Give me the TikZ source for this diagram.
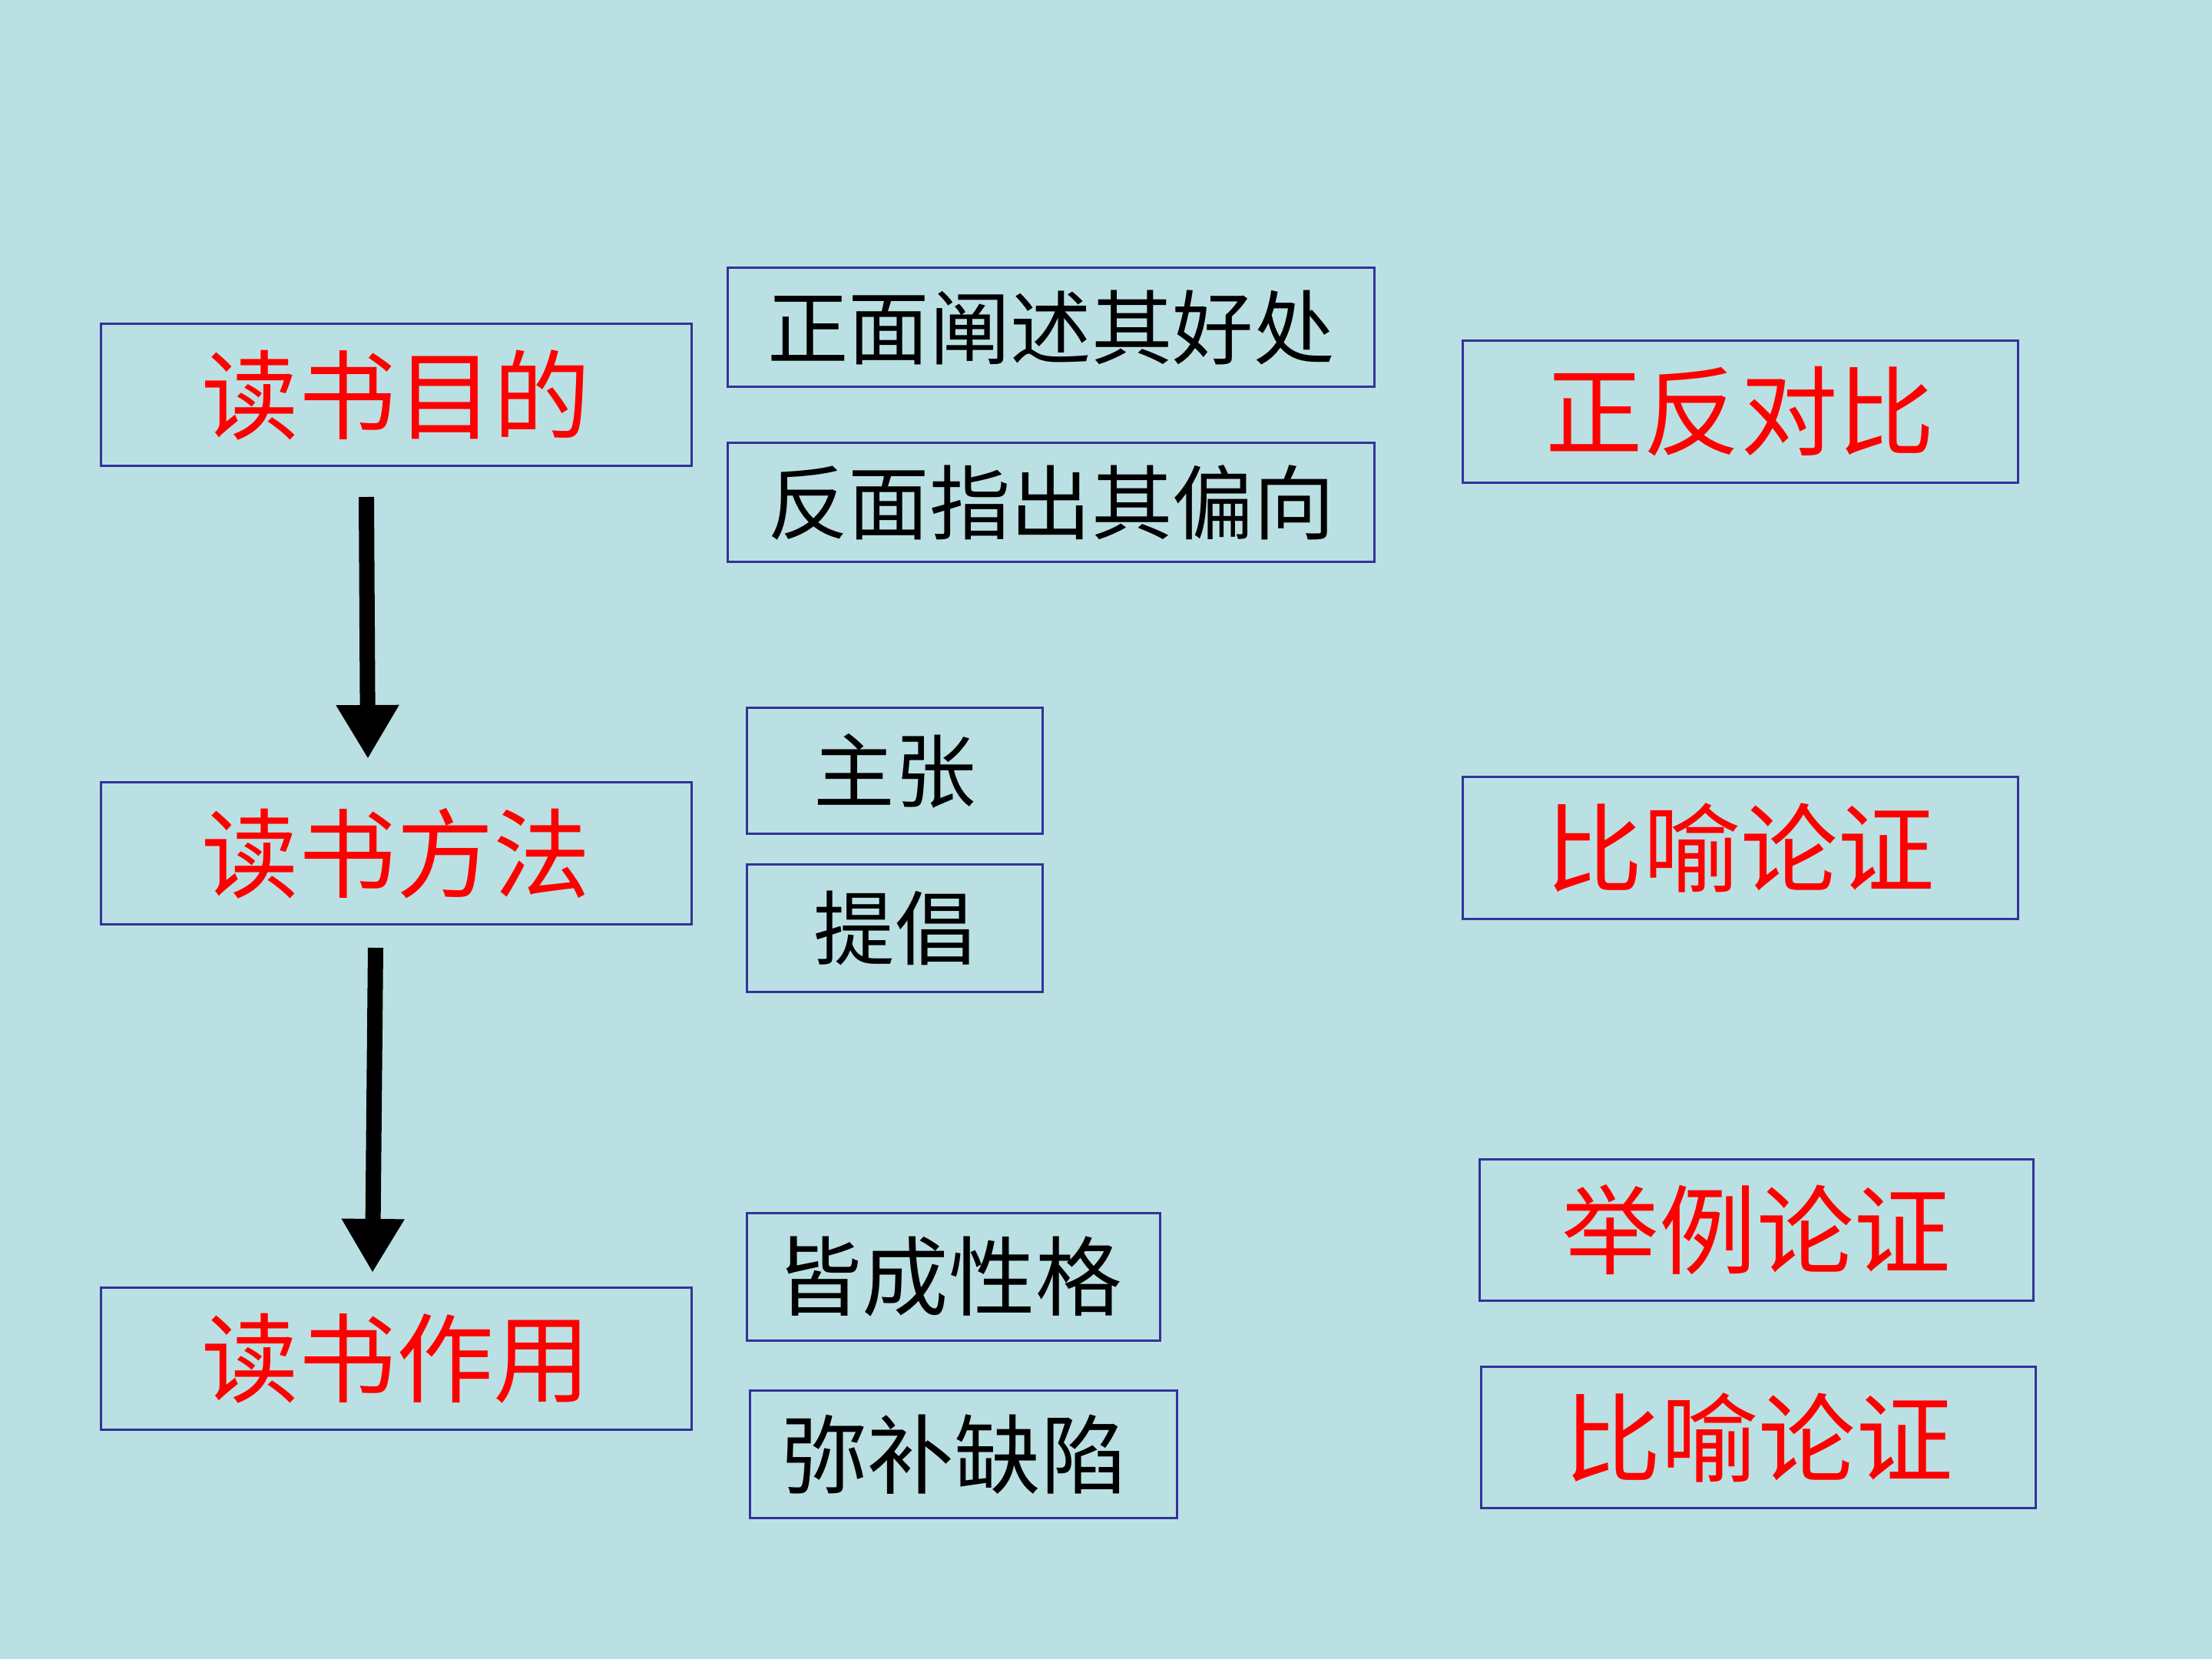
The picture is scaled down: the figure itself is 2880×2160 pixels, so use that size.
\documentclass[tikz,border=0pt]{standalone}
\usepackage{fontspec}
\newfontfamily\cjk{Noto Sans CJK SC}
\usetikzlibrary{arrows.meta}
\definecolor{bgc}{RGB}{187,224,227}
\definecolor{boxc}{RGB}{51,51,153}
\definecolor{redc}{RGB}{255,0,0}
\tikzset{
  box/.style={draw=boxc, line width=0.85pt, rectangle, inner sep=0pt, anchor=center},
  redtxt/.style={text=redc, font=\cjk\fontsize{36}{40}\selectfont},
  blktxt/.style={text=black, font=\cjk\fontsize{30}{34}\selectfont},
  blkbig/.style={text=black, font=\cjk\fontsize{32}{36}\selectfont},
  bigarrow/.style={line width=0.2cm, -{Triangle[width=0.77cm,length=0.7cm]}}
}
\begin{document}
\begin{tikzpicture}[x=0.01cm,y=-0.01cm]
\fill[bgc] (0,0) rectangle (2880,2160);
\useasboundingbox (0,0) rectangle (2880,2160);
% left column
\node[box,redtxt,minimum width=7.68cm,minimum height=1.84cm] (purpose) at (516,514) {读书目的};
\node[box,redtxt,minimum width=7.68cm,minimum height=1.84cm] (method) at (516,1111) {读书方法};
\node[box,redtxt,minimum width=7.68cm,minimum height=1.84cm] (effect) at (516,1769) {读书作用};
% middle column
\node[box,blktxt,minimum width=8.41cm,minimum height=1.54cm] (pos) at (1368.5,426) {正面阐述其好处};
\node[box,blktxt,minimum width=8.41cm,minimum height=1.54cm] (neg) at (1368.5,654) {反面指出其偏向};
\node[box,blktxt,minimum width=3.84cm,minimum height=1.63cm] (zz) at (1165,1003.5) {主张};
\node[box,blktxt,minimum width=3.84cm,minimum height=1.65cm] (tc) at (1165,1208.5) {提倡};
\node[box,blkbig,minimum width=5.37cm,minimum height=1.65cm] (jc) at (1241.5,1662.5) {\hspace{-0.12cm}皆成性格\hspace{0.12cm}};
\node[box,blkbig,minimum width=5.55cm,minimum height=1.65cm] (mb) at (1254.5,1893.5) {\hspace{-0.24cm}弥补缺陷\hspace{0.24cm}};
% right column
\node[box,redtxt,minimum width=7.22cm,minimum height=1.84cm] (zf) at (2266,536) {正反对比};
\node[box,redtxt,minimum width=7.22cm,minimum height=1.84cm] (by1) at (2266,1104) {比喻论证};
\node[box,redtxt,minimum width=7.20cm,minimum height=1.83cm] (jl) at (2287,1601.5) {举例论证};
\node[box,redtxt,minimum width=7.21cm,minimum height=1.83cm] (by2) at (2289.5,1871.5) {比喻论证};
% arrows
\coordinate (a1s) at (477,647);
\coordinate (a1e) at (479,988);
\coordinate (a2s) at (489,1234);
\coordinate (a2e) at (485,1657);
\draw[bigarrow] (a1s) -- (a1e);
\draw[bigarrow] (a2s) -- (a2e);
\end{tikzpicture}
\end{document}
